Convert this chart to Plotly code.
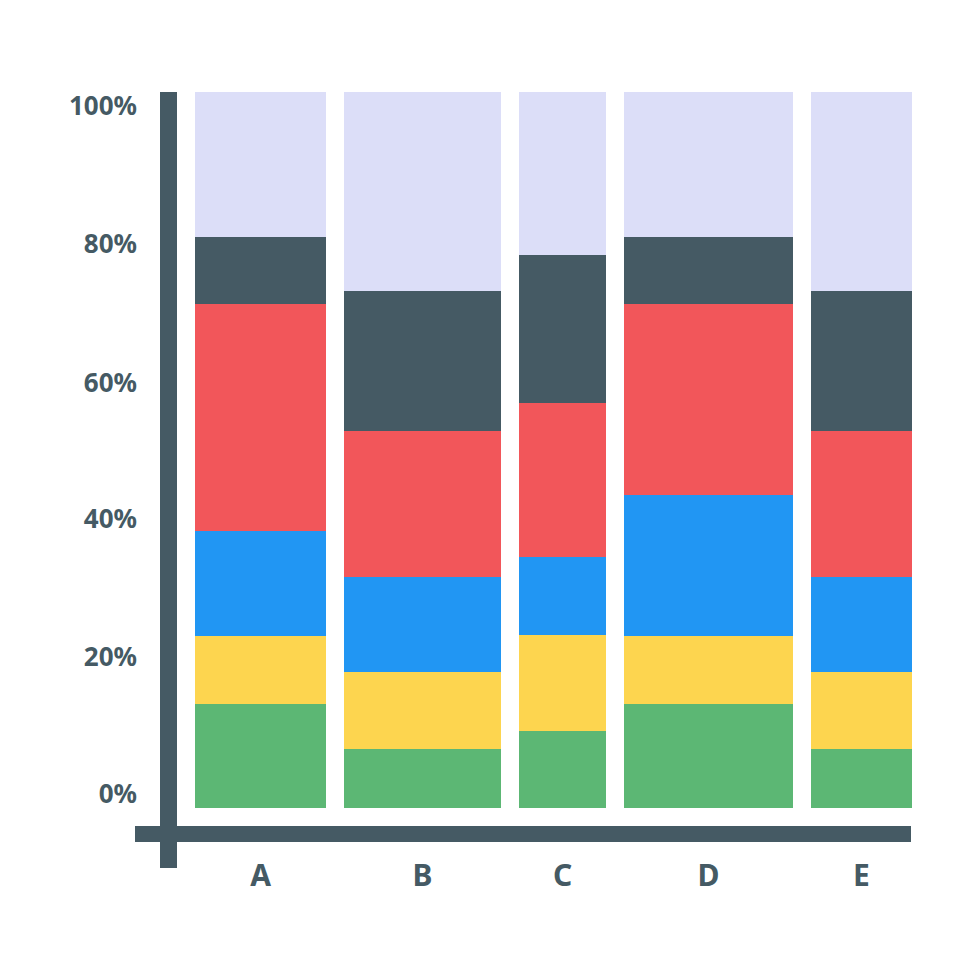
import plotly.graph_objects as go

# categories and column widths (relative share of the x axis)
categories = ["A", "B", "C", "D", "E"]
col_widths = [131, 157, 87, 169, 101]

# stacked segment shares (%) bottom -> top
green = [14.5, 8.2, 10.8, 14.5, 8.2]
yellow = [9.5, 10.8, 13.3, 9.5, 10.8]
blue = [14.7, 13.3, 10.9, 19.7, 13.3]
red = [31.7, 20.4, 21.5, 26.7, 20.4]
dark = [9.4, 19.5, 20.8, 9.4, 19.5]
lavender = [20.2, 27.8, 22.7, 20.2, 27.8]

tick_labels = ["0%", "20%", "40%", "60%", "80%", "100%"]

DARK = "#455a64"
series = [
    (green, "#5cb774"),
    (yellow, "#fdd54f"),
    (blue, "#2196f3"),
    (red, "#f2565a"),
    (dark, DARK),
    (lavender, "#dcdef8"),
]

# page offset of the plot in the browser
OFF = 8

# x centres from widths, with a fixed gap between columns
start, gap = 195, 18
centers = []
pos = start
for w in col_widths:
    centers.append(pos + w / 2)
    pos += w + gap

fig = go.Figure()
for vals, col in series:
    fig.add_trace(go.Bar(
        x=centers, y=vals, width=col_widths,
        marker=dict(color=col, line=dict(width=0)),
        showlegend=False, hoverinfo="skip",
    ))

# pixel scale: 0% at y=808px, 100% at y=92px
scale = (808 - 92) / 100
base = 808 - OFF
y_lo = (base - 980) / scale
y_hi = base / scale
label_px = [794, 657, 519, 383, 244, 106]
tickvals = [(808 - p) / scale for p in label_px]


def px_x(p):
    return (p - OFF) / 980


def px_y(p):
    return 1 - (p - OFF) / 980


fig.update_layout(
    width=980, height=980,
    margin=dict(l=0, r=0, t=0, b=0),
    paper_bgcolor="white", plot_bgcolor="white",
    barmode="stack", bargap=0,
    font=dict(family="Noto Sans", color=DARK),
    xaxis=dict(
        range=[OFF, 980 + OFF], showgrid=False, zeroline=False, showline=False,
        tickvals=centers, ticktext=categories, ticks="",
        anchor="free", position=px_y(855),
        tickfont=dict(size=30, family="Noto Sans", weight="bold", color=DARK),
    ),
    yaxis=dict(
        range=[y_lo, y_hi], showgrid=False, zeroline=False, showline=False,
        tickvals=tickvals, ticktext=tick_labels, ticks="",
        anchor="free", position=px_x(137),
        tickfont=dict(size=26, family="Noto Sans", weight="bold", color=DARK),
    ),
    shapes=[
        dict(type="rect", xref="paper", yref="paper",
             x0=px_x(160), x1=px_x(177), y0=px_y(868), y1=px_y(92),
             fillcolor=DARK, line=dict(width=0), layer="above"),
        dict(type="rect", xref="paper", yref="paper",
             x0=px_x(135), x1=px_x(911), y0=px_y(842), y1=px_y(826),
             fillcolor=DARK, line=dict(width=0), layer="above"),
    ],
)

fig.write_html("out.html")
